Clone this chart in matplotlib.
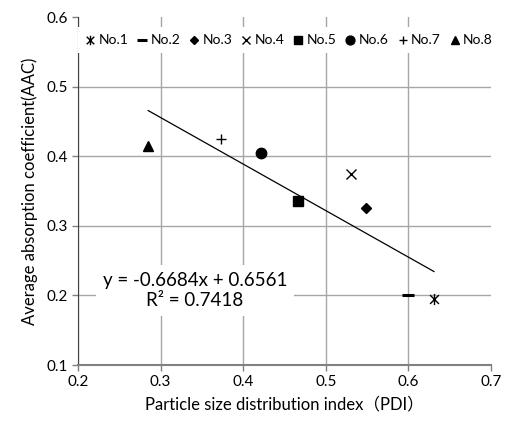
import matplotlib
matplotlib.use("Agg")
import matplotlib.pyplot as plt
from matplotlib.path import Path
import numpy as np

# sample data
labels = ['No.1', 'No.2', 'No.3', 'No.4', 'No.5', 'No.6', 'No.7', 'No.8']
pdi = [0.631, 0.600, 0.549, 0.531, 0.466, 0.421, 0.373, 0.285]
aac = [0.195, 0.200, 0.325, 0.375, 0.335, 0.405, 0.425, 0.415]

# linear trend (as printed on chart)
slope = -0.6684
intercept = 0.6561
r2 = 0.7418

# excel style asterisk: an x with a vertical bar
star = Path([(-1, -1), (1, 1), (-1, 1), (1, -1), (0, -1.25), (0, 1.25)],
            [Path.MOVETO, Path.LINETO] * 3)
markers = [star, '_', 'D', 'x', 's', 'o', '+', '^']
msizes = [8, 9, 5, 7, 7, 7.5, 7, 7]

plt.rcParams['font.family'] = ['Lato', 'Noto Sans CJK JP', 'DejaVu Sans']

fig = plt.figure(figsize=(5.07, 4.23), dpi=100)
ax = fig.add_axes([0.1538, 0.137, 0.8146, 0.8228])

for x, y, lab, m, ms in zip(pdi, aac, labels, markers, msizes):
    mew = 2.2 if m == '_' else 1.0
    ax.plot([x], [y], linestyle='none', marker=m, ms=ms, color='black',
            mfc='black', mew=mew, label=lab, zorder=4)

xs = np.array([min(pdi), max(pdi)])
ax.plot(xs, slope * xs + intercept, color='black', lw=0.9, zorder=3)

ax.set_xlim(0.2, 0.7)
ax.set_ylim(0.1, 0.6)
ax.set_xticks(np.arange(0.2, 0.71, 0.1))
ax.set_yticks(np.arange(0.1, 0.61, 0.1))
ax.set_xticklabels(['0.2', '0.3', '0.4', '0.5', '0.6', '0.7'])
ax.set_yticklabels(['0.1', '0.2', '0.3', '0.4', '0.5', '0.6'])
ax.tick_params(labelsize=11, direction='out', length=4, color='#808080', width=1)
ax.grid(True, color='#a6a6a6', lw=1)
ax.set_axisbelow(True)
ax.get_ygridlines()[-1].set_visible(False)
ax.get_xgridlines()[-1].set_visible(False)

for s in ['top', 'right']:
    ax.spines[s].set_visible(False)
ax.spines['left'].set_color('#404040')
ax.spines['bottom'].set_color('#808080')
ax.spines['bottom'].set_linewidth(1.5)

ax.set_xlabel('Particle size distribution index（PDI）', fontsize=12, labelpad=5)
ax.set_ylabel('Average absorption coefficient(AAC)', fontsize=12, labelpad=6)

ax.text(0.3418, 0.207, f'y = {slope}x + {intercept}\nR² = {r2}', fontsize=13.5,
        ha='center', va='center', linespacing=1.25,
        bbox=dict(facecolor='white', edgecolor='none', pad=5), zorder=5)

leg = ax.legend(loc='upper center', bbox_to_anchor=(0.51, 0.99), ncol=8,
                fontsize=10, frameon=True, handlelength=0.8, handletextpad=0.2,
                columnspacing=0.6, borderpad=0.5, fancybox=False, markerscale=0.85)
leg.get_frame().set_edgecolor('none')
leg.get_frame().set_facecolor('white')
leg.get_frame().set_alpha(1)

fig.savefig('out.png', dpi=100)
